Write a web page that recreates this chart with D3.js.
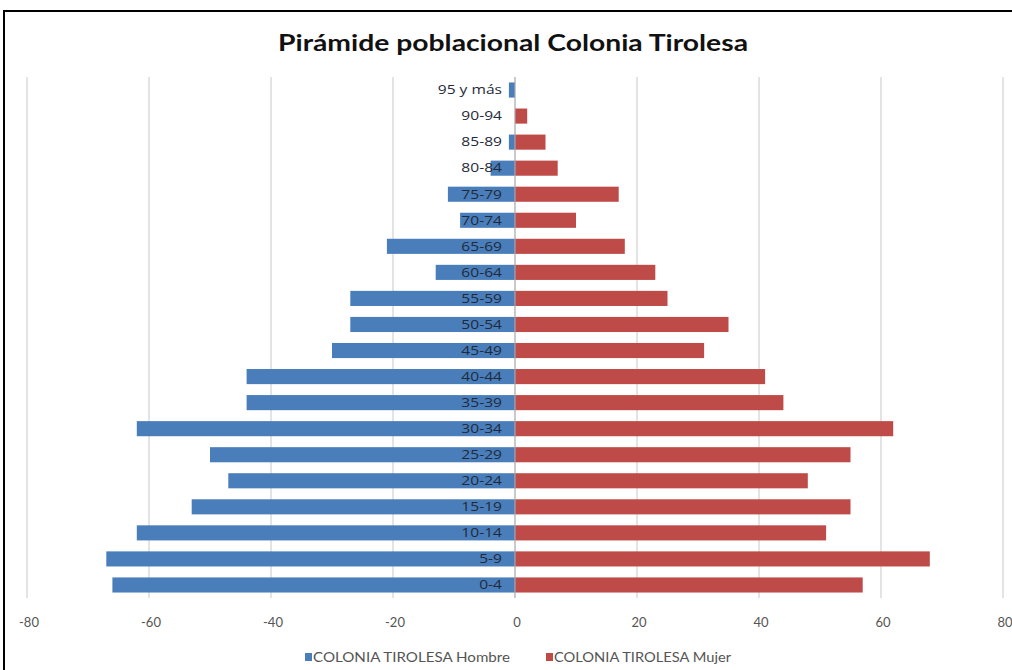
<!DOCTYPE html>
<html><head><meta charset="utf-8">
<script src="https://cdn.jsdelivr.net/npm/d3@7"></script>
<style>html,body{margin:0;padding:0;background:#fff;overflow:hidden}</style>
</head><body>
<svg id="c" width="1012" height="670"></svg>
<script>
const categories = ["0-4","5-9","10-14","15-19","20-24","25-29","30-34","35-39","40-44","45-49","50-54","55-59","60-64","65-69","70-74","75-79","80-84","85-89","90-94","95 y más"];
const hombre = [-66,-67,-62,-53,-47,-50,-62,-44,-44,-30,-27,-27,-13,-21,-9,-11,-4,-1,0,-1];
const mujer  = [57,68,51,55,48,55,62,44,41,31,35,25,23,18,10,17,7,5,2,0];
const ticks = [-80,-60,-40,-20,0,20,40,60,80];
const seriesNames = ["COLONIA TIROLESA Hombre","COLONIA TIROLESA Mujer"];
const colors = ["#4A7EBB","#BE4B48"];

const svg = d3.select("#c");
svg.append("rect").attr("x",4).attr("y",11).attr("width",1020).attr("height",670)
  .attr("fill","#fff").attr("stroke","#000").attr("stroke-width",2);

svg.append("text").attr("x",278).attr("y",51)
  .attr("textLength",470).attr("lengthAdjust","spacingAndGlyphs")
  .attr("font-family","Lato, sans-serif").attr("font-weight","bold").attr("font-size",23)
  .attr("fill","#111").text("Pirámide poblacional Colonia Tirolesa");

const x = d3.scaleLinear().domain([-80,80]).range([27,1003]);
const y = d3.scaleBand().domain(categories.slice().reverse()).range([77,598]).paddingInner(0.42).paddingOuter(0.21);

svg.append("g").selectAll("line").data(ticks).join("line")
  .attr("x1",d=>x(d)).attr("x2",d=>x(d)).attr("y1",77).attr("y2",598)
  .attr("stroke","#c8c8c8").attr("stroke-width",1);

const rows = categories.map((c,i)=>({c,h:hombre[i],m:mujer[i]}));
svg.append("g").selectAll("rect").data(rows).join("rect")
  .attr("x",d=>x(Math.min(0,d.h))).attr("width",d=>Math.abs(x(d.h)-x(0)))
  .attr("y",d=>y(d.c)).attr("height",y.bandwidth()).attr("fill",colors[0]);
svg.append("g").selectAll("rect").data(rows).join("rect")
  .attr("x",x(0)).attr("width",d=>x(d.m)-x(0))
  .attr("y",d=>y(d.c)).attr("height",y.bandwidth()).attr("fill",colors[1]);

svg.append("line").attr("x1",x(0)).attr("x2",x(0)).attr("y1",77).attr("y2",598)
  .attr("stroke","#b0b0b0").attr("stroke-width",1);

svg.append("g").selectAll("g").data(categories).join("g")
  .attr("transform",d=>`translate(${x(0)-13},${y(d)+y.bandwidth()/2}) scale(1.3,1)`)
  .append("text").attr("dy","0.36em")
  .attr("text-anchor","end").attr("font-family","Open Sans, sans-serif").attr("font-size",12)
  .attr("fill","#1f2a3a").text(d=>d);

svg.append("g").selectAll("text").data(ticks).join("text")
  .attr("x",d=>x(d)+2).attr("y",627).attr("text-anchor","middle")
  .attr("font-family","Lato, sans-serif").attr("font-size",13).attr("fill","#555")
  .text(d=>d);

const leg = [{n:seriesNames[0],c:colors[0],x:305,w:197},{n:seriesNames[1],c:colors[1],x:546,w:177}];
const lg = svg.append("g").selectAll("g").data(leg).join("g");
lg.append("rect").attr("x",d=>d.x).attr("y",653).attr("width",7).attr("height",8).attr("fill",d=>d.c);
lg.append("text").attr("x",d=>d.x+8).attr("y",662).attr("font-family","Lato, sans-serif")
  .attr("textLength",d=>d.w).attr("lengthAdjust","spacingAndGlyphs")
  .attr("font-size",12.5).attr("fill","#555").text(d=>d.n);
</script>
</body></html>
